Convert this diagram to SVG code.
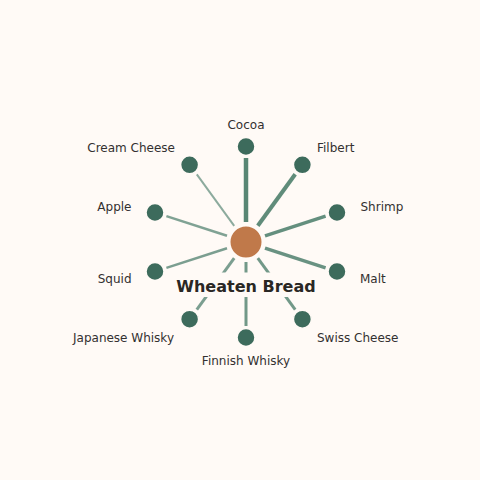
<svg xmlns="http://www.w3.org/2000/svg" width="480" height="480" viewBox="0 0 480 480">
<style>
.bg{fill:#fffaf6}
.edge{stroke:#4f7f6d;stroke-linecap:butt;fill:none}
.leaf{fill:#3d6b5c;stroke:#fffaf6;stroke-width:1.5}
.hub{fill:#c0794a;stroke:#fffaf6;stroke-width:2}
.lbl{font-family:"DejaVu Sans",sans-serif;font-size:12px;fill:#333030}
.title{font-family:"DejaVu Sans",sans-serif;font-size:16px;font-weight:bold;fill:#2a2724}
</style>
<rect class="bg" x="0" y="0" width="480" height="480"/>
<g id="connectors">
<line class="edge" x1="246" y1="222" x2="246" y2="158" stroke-width="4.5" opacity="0.95"/>
<line class="edge" x1="257.8" y1="225.8" x2="295.2" y2="174.3" stroke-width="4" opacity="0.9"/>
<line class="edge" x1="265" y1="235.8" x2="325.6" y2="216.1" stroke-width="3.5" opacity="0.88"/>
<line class="edge" x1="265" y1="248.2" x2="325.6" y2="267.9" stroke-width="3.5" opacity="0.85"/>
<line class="edge" x1="257.8" y1="258.2" x2="295.2" y2="309.7" stroke-width="3" opacity="0.8"/>
<line class="edge" x1="246" y1="262" x2="246" y2="326" stroke-width="3" opacity="0.8"/>
<line class="edge" x1="234.2" y1="258.2" x2="196.8" y2="309.7" stroke-width="3" opacity="0.75"/>
<line class="edge" x1="227" y1="248.2" x2="166.4" y2="267.9" stroke-width="2.5" opacity="0.75"/>
<line class="edge" x1="227" y1="235.8" x2="166.4" y2="216.1" stroke-width="2.5" opacity="0.72"/>
<line class="edge" x1="234.2" y1="225.8" x2="196.8" y2="174.3" stroke-width="2" opacity="0.65"/>
</g>
<g id="hub">
<circle class="hub" cx="246" cy="242" r="16.5"/>
<rect class="bg" x="172" y="272.5" width="148" height="24.5"/>
<text class="title" x="246" y="291.5" text-anchor="middle">Wheaten Bread</text>
</g>
<g id="n-cocoa"><circle class="leaf" cx="246" cy="146.5" r="9"/><text class="lbl" x="246" y="128.5" text-anchor="middle">Cocoa</text></g>
<g id="n-filbert"><circle class="leaf" cx="302.4" cy="164.8" r="9"/><text class="lbl" x="317" y="151.5">Filbert</text></g>
<g id="n-shrimp"><circle class="leaf" cx="337" cy="212.5" r="9"/><text class="lbl" x="360.5" y="210.5">Shrimp</text></g>
<g id="n-malt"><circle class="leaf" cx="337" cy="271.5" r="9"/><text class="lbl" x="360" y="282.5">Malt</text></g>
<g id="n-swiss"><circle class="leaf" cx="302.4" cy="319.2" r="9"/><text class="lbl" x="317" y="341.5">Swiss Cheese</text></g>
<g id="n-finnish"><circle class="leaf" cx="246" cy="337.5" r="9"/><text class="lbl" x="246" y="364.5" text-anchor="middle">Finnish Whisky</text></g>
<g id="n-japanese"><circle class="leaf" cx="189.6" cy="319.2" r="9"/><text class="lbl" x="174" y="341.5" text-anchor="end">Japanese Whisky</text></g>
<g id="n-squid"><circle class="leaf" cx="155" cy="271.5" r="9"/><text class="lbl" x="131.5" y="282.5" text-anchor="end">Squid</text></g>
<g id="n-apple"><circle class="leaf" cx="155" cy="212.5" r="9"/><text class="lbl" x="131.5" y="210.5" text-anchor="end">Apple</text></g>
<g id="n-cream"><circle class="leaf" cx="189.6" cy="164.8" r="9"/><text class="lbl" x="175" y="151.5" text-anchor="end">Cream Cheese</text></g>
</svg>
